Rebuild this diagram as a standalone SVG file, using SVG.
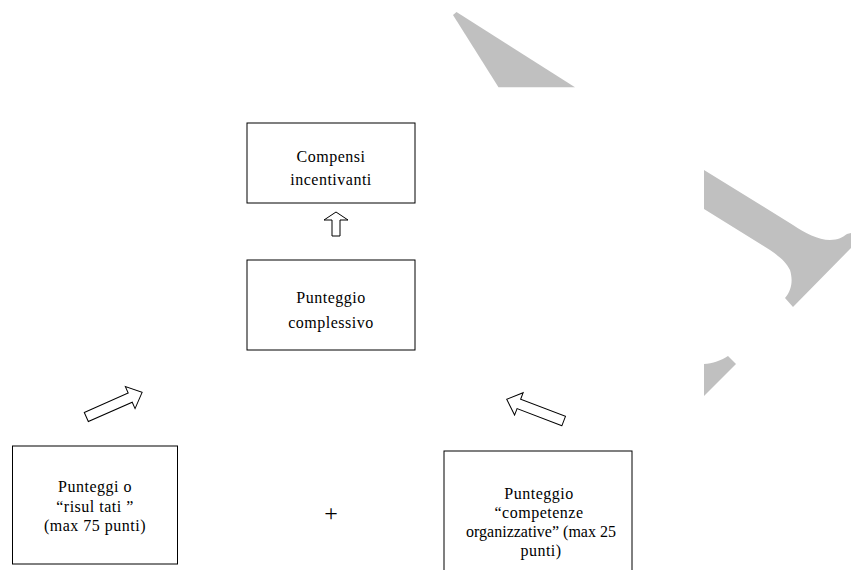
<svg xmlns="http://www.w3.org/2000/svg" width="851" height="570" viewBox="0 0 851 570">
<style>
.box{fill:#fff;stroke:#000;stroke-width:1}
.t{font-family:"Liberation Serif","Times New Roman",serif;font-size:16px;fill:#000;text-anchor:middle;letter-spacing:0.5px}
.arr{fill:#fff;stroke:#000;stroke-width:1;stroke-linejoin:miter}
.bg{fill:#c0c0c0}
</style>
<rect width="851" height="570" fill="#fff"/>
<g id="background">
<polygon class="bg" points="453,15 456.5,12 575,87.3 498.5,87.3"/>
<path class="bg" d="M704,170 L793,225 C805,233 818,240 830,240 C838,240 843,237 847,234 L851,233 L851,248 L793,307 L785,298 C792,290 793,280 790,270 C786,262 780,257 770,250 L704,209 Z"/>
<path class="bg" d="M704,364 C712,364 722,360 728,356 L736,364 L704,396 Z"/>
</g>
<g id="connectors">
<polygon class="arr" points="332,236 332,220 324,220 336,212 348,220 340,220 340,236"/>
<polygon class="arr" transform="translate(86.3,417) rotate(-23.8)" points="0,-5 48,-5 48,-12 61,0 48,12 48,5 0,5"/>
<polygon class="arr" transform="translate(563.7,421) rotate(200.9)" points="0,-5 48,-5 48,-12 61,0 48,12 48,5 0,5"/>
</g>
<g id="compensi">
<rect class="box" x="247" y="123" width="168" height="80"/>
<text class="t" x="331" y="162">Compensi</text>
<text class="t" x="331" y="185">incentivanti</text>
</g>
<g id="complessivo">
<rect class="box" x="247" y="260" width="168" height="90"/>
<text class="t" x="331" y="303">Punteggio</text>
<text class="t" x="331" y="328">complessivo</text>
</g>
<g id="risultati">
<rect class="box" x="12.5" y="446" width="165" height="118"/>
<text class="t" x="95" y="492">Punteggi o</text>
<text class="t" x="95" y="512">“risul tati ”</text>
<text class="t" x="95" y="531">(max 75 punti)</text>
</g>
<g id="competenze">
<rect class="box" x="444" y="451" width="188" height="130"/>
<text class="t" x="539" y="499">Punteggio</text>
<text class="t" x="539" y="518">“competenze</text>
<text class="t" x="541" y="537" style="letter-spacing:0">organizzative” (max 25</text>
<text class="t" x="541" y="556">punti)</text>
</g>
<g id="plus">
<text class="t" x="331" y="521" style="font-size:24px;letter-spacing:0">+</text>
</g>
</svg>
